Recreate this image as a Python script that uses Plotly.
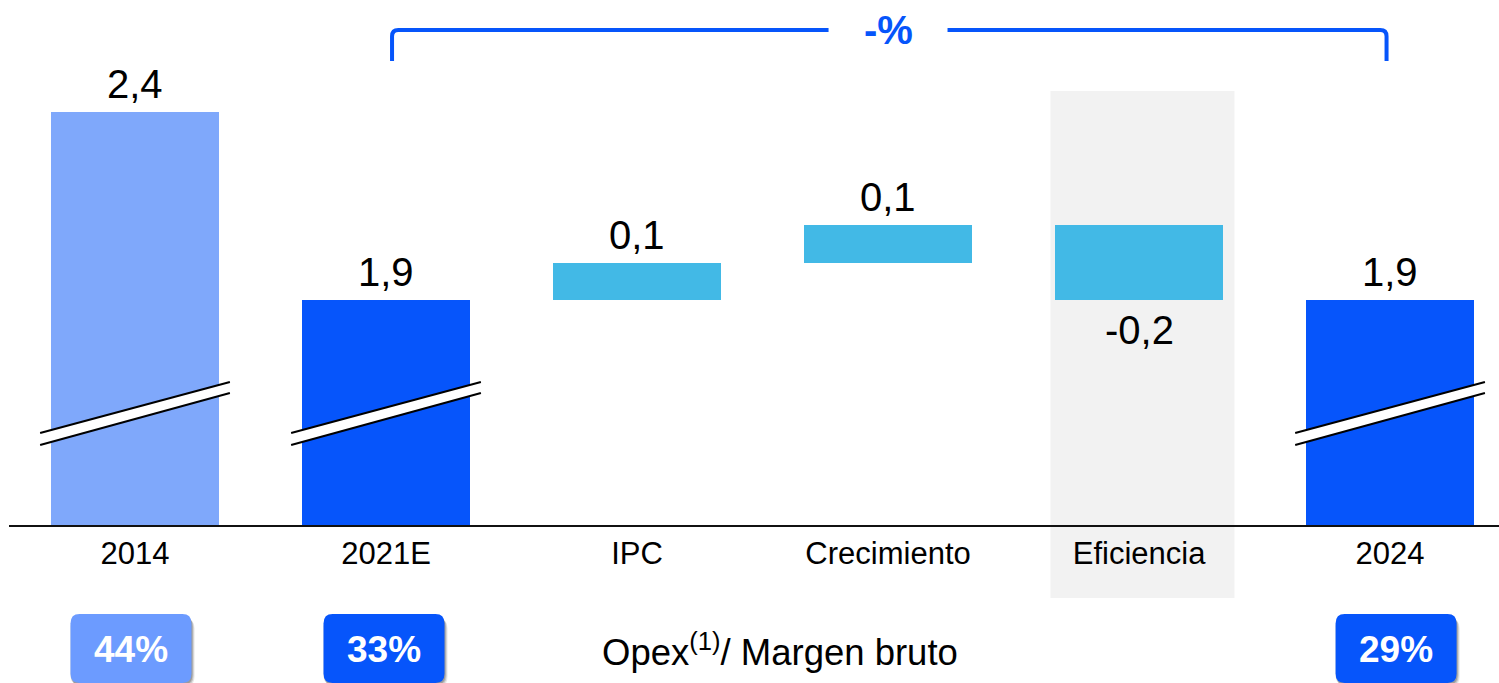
import plotly.graph_objects as go

# ---- data -------------------------------------------------------------
categories = ["2014", "2021E", "IPC", "Crecimiento", "Eficiencia", "2024"]
values = [2.4, 1.9, 0.1, 0.1, -0.2, 1.9]
measures = ["absolute", "absolute", "relative", "relative", "relative", "absolute"]
bar_colors = ["#7FA8FB", "#0655FB", "#42B9E6", "#42B9E6", "#42B9E6", "#0655FB"]

ratio_categories = ["2014", "2021E", "2024"]
ratio_values = [44, 33, 29]
ratio_colors = ["#6C9BFF", "#0655FB", "#0655FB"]
ratio_caption = "Opex<sup>(1)</sup>/ Margen bruto"

change_label = "-%"
bracket_from, bracket_to = "2021E", "2024"
highlight_category = "Eficiencia"
broken_categories = ["2014", "2021E", "2024"]

# ---- layout geometry ---------------------------------------------------
W, H = 1499, 683
ML, MR, MT, MB = 9, 0, 0, 158
PLOT_H = H - MT - MB
PX_PER_UNIT = 376.0
Y_MIN = 1.302
Y_MAX = Y_MIN + PLOT_H / PX_PER_UNIT
X_MIN, X_MAX = -0.502, 5.434

FONT = "Arial, 'Liberation Sans', sans-serif"
BLUE = "#0655FB"


def py(pixel_y):
    """Pixel row (from top of page) -> paper y coordinate."""
    return (H - MB - pixel_y) / PLOT_H


def fmt(v):
    return f"{v:.1f}".replace(".", ",")


idx = {c: i for i, c in enumerate(categories)}

# waterfall bases
bases = []
running = 0.0
for v, m in zip(values, measures):
    if m == "absolute":
        bases.append(0.0)
        running = v
    else:
        bases.append(running)
        running += v

fig = go.Figure()
fig.add_trace(go.Bar(
    x=list(range(len(categories))),
    y=values,
    base=bases,
    width=0.669,
    marker=dict(color=bar_colors, line=dict(width=0)),
    hoverinfo="skip",
    showlegend=False,
))

shapes = []
annotations = []

# highlight column behind "Eficiencia"
hc = idx[highlight_category]
shapes.append(dict(type="rect", xref="x", yref="paper",
                   x0=hc - 0.353, x1=hc + 0.38, y0=py(598), y1=py(91),
                   fillcolor="#F2F2F2", line=dict(width=0), layer="below"))

# value labels
for i, (v, b) in enumerate(zip(values, bases)):
    if v >= 0:
        edge, shift = b + v, 28
    else:
        edge, shift = b + v, -30
    annotations.append(dict(x=i, y=edge, xref="x", yref="y", text=fmt(v),
                            showarrow=False, yanchor="middle", yshift=shift,
                            font=dict(family=FONT, size=40, color="#000000")))

# axis-break marks on the truncated bars
for c in broken_categories:
    i = idx[c]
    xa, xb = i - 0.378, i + 0.378
    ya1, yb1 = py(433), py(382)
    ya2, yb2 = py(445), py(393)
    shapes.append(dict(type="path", xref="x", yref="paper",
                       path=f"M {xa},{ya1} L {xb},{yb1} L {xb},{yb2} L {xa},{ya2} Z",
                       fillcolor="white", line=dict(width=0), layer="above"))
    for (ya, yb) in [(ya1, yb1), (ya2, yb2)]:
        shapes.append(dict(type="line", xref="x", yref="paper",
                           x0=xa, y0=ya, x1=xb, y1=yb,
                           line=dict(color="#000000", width=2), layer="above"))

# bracket with the change label
bx0 = idx[bracket_from] + 0.024
bx1 = idx[bracket_to] - 0.014
bmid = (idx[bracket_from] + idx[bracket_to]) / 2
gap = 0.237
ytop, ybot = py(30), py(61)
rx, ry = 0.025, 0.012
bracket_path = (
    f"M {bx0},{ybot} L {bx0},{ytop - ry} Q {bx0},{ytop} {bx0 + rx},{ytop} "
    f"L {bmid - gap},{ytop} "
    f"M {bmid + gap},{ytop} L {bx1 - rx},{ytop} Q {bx1},{ytop} {bx1},{ytop - ry} "
    f"L {bx1},{ybot}"
)
shapes.append(dict(type="path", xref="x", yref="paper", path=bracket_path,
                   line=dict(color=BLUE, width=4), layer="above"))
annotations.append(dict(x=bmid, y=ytop, xref="x", yref="paper", text=f"<b>{change_label}</b>",
                        showarrow=False, yanchor="middle", xanchor="center",
                        font=dict(family=FONT, size=40, color=BLUE)))

# ratio badges
def rounded_rect(x0, x1, y0, y1, rx, ry):
    return (f"M {x0 + rx},{y1} L {x1 - rx},{y1} Q {x1},{y1} {x1},{y1 - ry} "
            f"L {x1},{y0 + ry} Q {x1},{y0} {x1 - rx},{y0} L {x0 + rx},{y0} "
            f"Q {x0},{y0} {x0},{y0 + ry} L {x0},{y1 - ry} Q {x0},{y1} {x0 + rx},{y1} Z")


BADGE_STEP = 1.008   # badge row is spaced slightly wider than the bars
BADGE_OFFSET = -0.016
BADGE_HALF = 0.241

for c, val, col in zip(ratio_categories, ratio_values, ratio_colors):
    cx = idx[c] * BADGE_STEP + BADGE_OFFSET
    x0, x1 = cx - BADGE_HALF, cx + BADGE_HALF
    y1, y0 = py(614), py(683)
    for dx, dy, op in [(0.012, 4, 0.10), (0.008, 3, 0.15), (0.004, 2, 0.2)]:
        shapes.append(dict(type="path", xref="x", yref="paper",
                           path=rounded_rect(x0 + dx - 0.004, x1 + dx, y0 - dy / PLOT_H,
                                             y1 - dy / PLOT_H, 0.04, 0.02),
                           fillcolor="#000000", opacity=op, line=dict(width=0),
                           layer="above"))
    shapes.append(dict(type="path", xref="x", yref="paper",
                       path=rounded_rect(x0, x1, y0, y1, 0.036, 0.018),
                       fillcolor=col, line=dict(width=0), layer="above"))
    annotations.append(dict(x=cx, y=py(649), xref="x", yref="paper",
                            text=f"<b>{val}%</b>", showarrow=False,
                            yanchor="middle", xanchor="center",
                            font=dict(family=FONT, size=37, color="white")))

annotations.append(dict(x=2.57, y=py(650), xref="x", yref="paper", text=ratio_caption,
                        showarrow=False, yanchor="middle", xanchor="center",
                        font=dict(family=FONT, size=36.5, color="#000000")))

fig.update_layout(
    width=W, height=H,
    margin=dict(l=ML, r=MR, t=MT, b=MB, pad=0),
    paper_bgcolor="white", plot_bgcolor="rgba(0,0,0,0)",
    shapes=shapes, annotations=annotations,
    bargap=0, showlegend=False,
    xaxis=dict(range=[X_MIN, X_MAX], tickmode="array",
               tickvals=list(range(len(categories))), ticktext=categories,
               showgrid=False, zeroline=False, showline=True,
               linecolor="#111111", linewidth=2, ticks="",
               ticklabelstandoff=0,
               tickfont=dict(family=FONT, size=31, color="#000000"),
               fixedrange=True),
    yaxis=dict(range=[Y_MIN, Y_MAX], visible=False, fixedrange=True),
)

fig.write_html("out.html", config={"displayModeBar": False})
